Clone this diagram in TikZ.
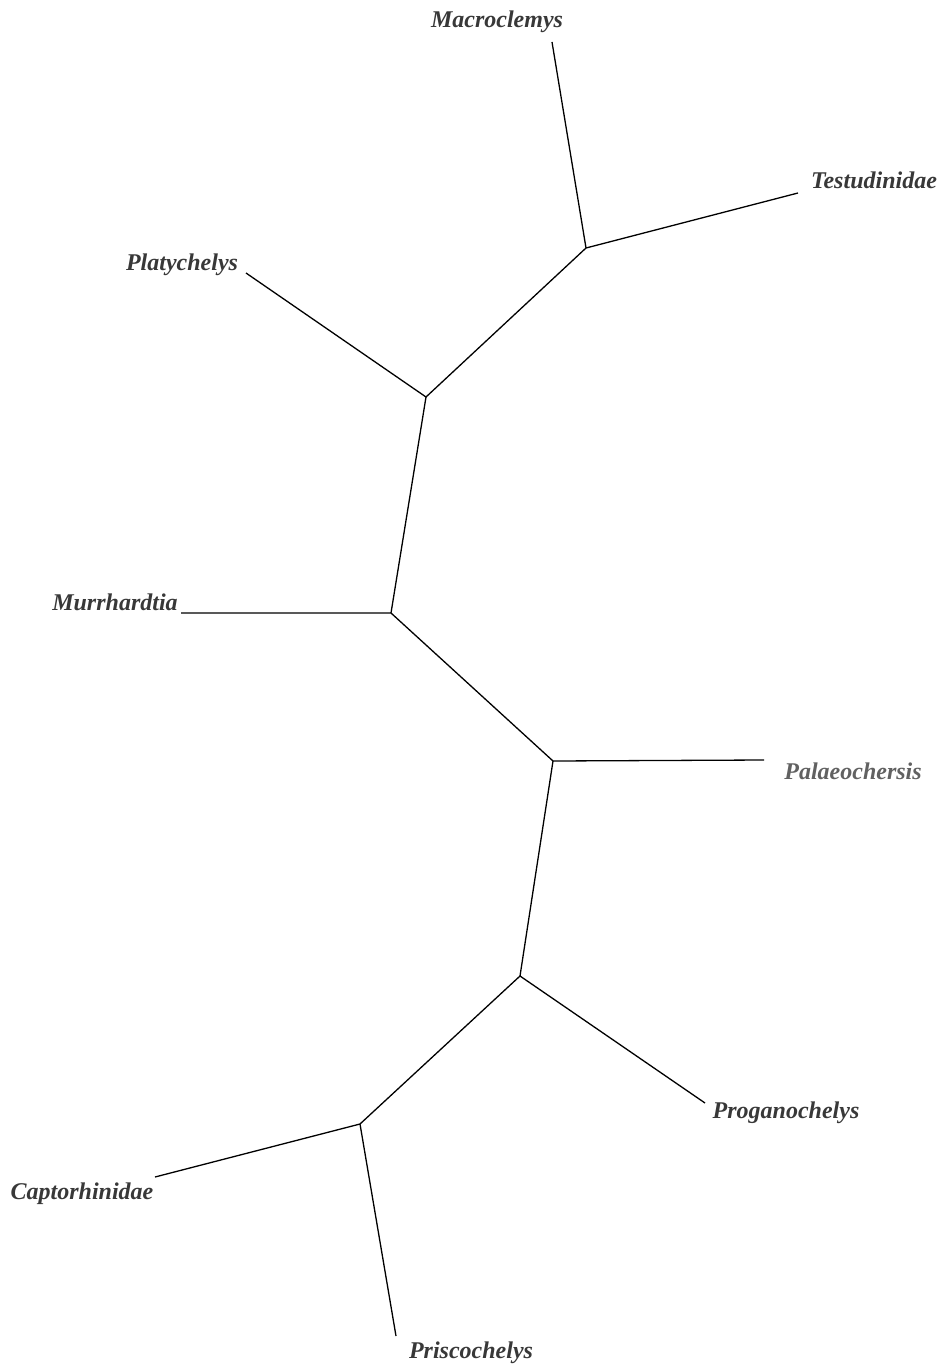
\documentclass[tikz,border=0pt]{standalone}
\usepackage{fontspec}
\setmainfont{Liberation Serif}
\begin{document}
\begin{tikzpicture}[x=1pt,y=-1pt,
  branch/.style={draw=black,line width=1.3pt},
  taxon/.style={font=\fontsize{24}{28}\selectfont\bfseries\itshape,text=black!78,anchor=base,inner sep=0pt},
  taxonlight/.style={taxon,text=black!62}]
\useasboundingbox (0,0) rectangle (941,1364);
% internal nodes
\coordinate (A) at (586,248);
\coordinate (B) at (426,397);
\coordinate (C) at (391,613);
\coordinate (D) at (553,761);
\coordinate (E) at (520,976);
\coordinate (F) at (360,1124);
% leaf ends
\coordinate (mac) at (552,42);
\coordinate (tes) at (798,193);
\coordinate (pla) at (246,273);
\coordinate (mur) at (181,613);
\coordinate (pal) at (764,760);
\coordinate (pro) at (705,1103);
\coordinate (cap) at (155,1177);
\coordinate (pri) at (396,1336);
% labels
\node[taxon] (lmac) at (497,28) {Macroclemys};
\node[taxon] (ltes) at (874,189) {Testudinidae};
\node[taxon] (lpla) at (182,270) {Platychelys};
\node[taxon] (lmur) at (115,610) {Murrhardtia};
\node[taxonlight] (lpal) at (853,779) {Palaeochersis};
\node[taxon] (lpro) at (786,1118) {Proganochelys};
\node[taxon] (lcap) at (82,1199) {Captorhinidae};
\node[taxon] (lpri) at (471,1358) {Priscochelys};
% branches
\draw[branch] (mac) -- (A) -- (tes);
\draw[branch] (A) -- (B) -- (pla);
\draw[branch] (B) -- (C) -- (mur);
\draw[branch] (C) -- (D) -- (pal);
\draw[branch] (D) -- (E) -- (pro);
\draw[branch] (E) -- (F) -- (cap);
\draw[branch] (F) -- (pri);
\end{tikzpicture}
\end{document}
